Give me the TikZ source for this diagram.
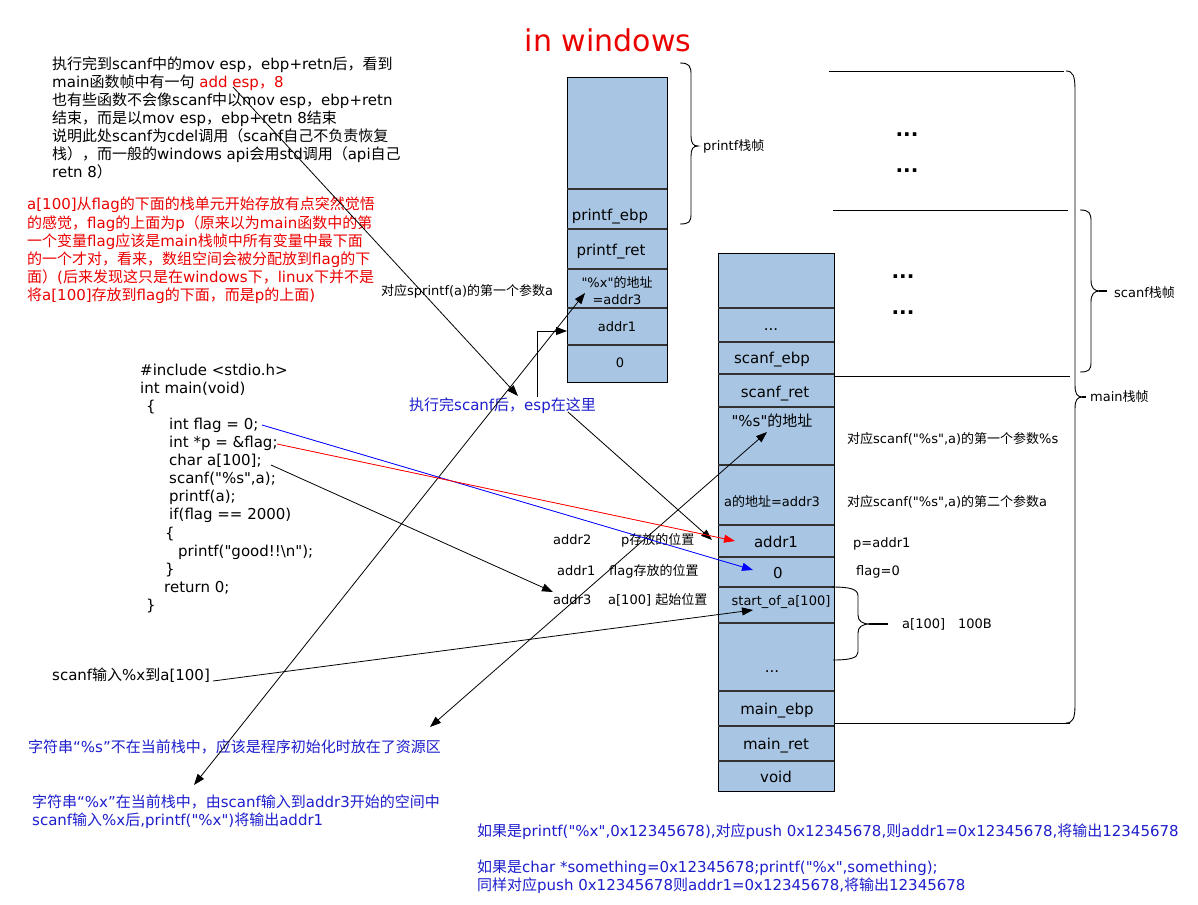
\documentclass[tikz,border=0pt]{standalone}
\usepackage{fontspec}
\setmainfont{DejaVu Sans}
\newfontfamily\latfont{DejaVu Sans}
\newfontfamily\cjkfont{Noto Sans CJK SC}
\newXeTeXintercharclass\cjkcls
\makeatletter
\count@="4E00
\loop
  \XeTeXcharclass\count@=\cjkcls
  \ifnum\count@<"9FFF \advance\count@\@ne
\repeat
\makeatother
\XeTeXcharclass"FF0C=\cjkcls
\XeTeXcharclass"FF08=\cjkcls
\XeTeXcharclass"FF09=\cjkcls
\XeTeXcharclass"3001=\cjkcls
\XeTeXcharclass"3002=\cjkcls
\XeTeXinterchartoks 0 \cjkcls = {\cjkfont}
\XeTeXinterchartoks 4095 \cjkcls = {\cjkfont}
\XeTeXinterchartoks \cjkcls 0 = {\latfont}
\XeTeXinterchartoks \cjkcls 4095 = {\latfont}
\XeTeXinterchartokenstate=1
\usetikzlibrary{arrows.meta}
\definecolor{stackblue}{RGB}{168,198,228}
\definecolor{rowgray}{RGB}{50,50,50}
\definecolor{txtblue}{RGB}{30,30,205}
\definecolor{txtred}{RGB}{235,0,0}
\tikzset{
  t15/.style={inner sep=0, font=\latfont\fontsize{15}{18}\selectfont, text height=13.5pt, text depth=3.5pt},
  t13/.style={inner sep=0, font=\latfont\fontsize{13}{16}\selectfont, text height=11.7pt, text depth=3pt},
  lw/.style={anchor=west},
  stackbox/.style={draw=black, fill=stackblue, line width=0.8pt},
  rowsep/.style={draw=rowgray, line width=1.2pt},
  arr/.style={-{Triangle[length=11pt,width=8pt]}, line width=0.8pt},
  darr/.style={{Triangle[length=11pt,width=8pt]}-{Triangle[length=11pt,width=8pt]}, line width=0.8pt},
  bracepath/.style={draw=black, line width=0.9pt},
  frameline/.style={draw=black, line width=0.9pt},
  bigdots/.style={inner sep=0, font=\latfont\fontsize{20}{20}\selectfont\bfseries},
}
\begin{document}
\begin{tikzpicture}[x=1pt,y=-1pt]
\useasboundingbox (0,0) rectangle (1198,904);
\fill[white] (0,0) rectangle (1198,904);

% title
\node[inner sep=0, font=\latfont\fontsize{30}{30}\selectfont, text=txtred] (title) at (608,40) {in windows};

% top-left note
\node[t15,lw] (n1) at (52,65) {执行完到scanf中的mov esp，ebp+retn后，看到};
\node[t15,lw] (n2) at (52,83) {main函数帧中有一句 \textcolor{txtred}{add esp，8}};
\node[t15,lw] (n3) at (52,101) {也有些函数不会像scanf中以mov esp，ebp+retn};
\node[t15,lw] (n4) at (52,119) {结束，而是以mov esp，ebp+retn 8结束};
\node[t15,lw] (n5) at (52,137) {说明此处scanf为cdel调用（scanf自己不负责恢复};
\node[t15,lw] (n6) at (52,155) {栈），而一般的windows api会用std调用（api自己};
\node[t15,lw] (n7) at (52,173) {retn 8）};

% red note
\begin{scope}[every node/.append style={text=txtred}]
\node[t15,lw] (r1) at (27,204) {a[100]从flag的下面的栈单元开始存放有点突然觉悟};
\node[t15,lw] (r2) at (27,223) {的感觉，flag的上面为p（原来以为main函数中的第};
\node[t15,lw] (r3) at (27,241) {一个变量flag应该是main栈帧中所有变量中最下面};
\node[t15,lw] (r4) at (27,259) {的一个才对，看来，数组空间会被分配放到flag的下};
\node[t15,lw] (r5) at (27,277) {面）(后来发现这只是在windows下，linux下并不是};
\node[t15,lw] (r6) at (27,295) {将a[100]存放到flag的下面，而是p的上面)};
\end{scope}

% code
\node[t15,lw] (c1) at (140,370) {\#include <stdio.h>};
\node[t15,lw] (c2) at (140,388) {int main(void)};
\node[t15,lw] (c3) at (146,406) {\{};
\node[t15,lw] (c4) at (169,424) {int flag = 0;};
\node[t15,lw] (c5) at (169,442) {int *p = \&flag;};
\node[t15,lw] (c6) at (169,460) {char a[100];};
\node[t15,lw] (c7) at (169,478) {scanf("\%s",a);};
\node[t15,lw] (c8) at (169,496) {printf(a);};
\node[t15,lw] (c9) at (169,514) {if(flag == 2000)};
\node[t15,lw] (c10) at (165,533) {\{};
\node[t15,lw] (c11) at (178,551) {printf("good!!\textbackslash n");};
\node[t15,lw] (c12) at (165,569) {\}};
\node[t15,lw] (c13) at (164,587) {return 0;};
\node[t15,lw] (c14) at (146,605) {\}};

% printf stack
\path[stackbox] (567,77) rectangle (667,382);
\foreach \yy in {189,229,269,308,345} \draw[rowsep] (567,\yy) -- (667,\yy);
\node[t15] (pebp) at (610,215) {printf\_ebp};
\node[t15] (pret) at (611,250) {printf\_ret};
\node[t13] (pfmt1) at (617,283) {"\%x"的地址};
\node[t13] (pfmt2) at (617,300) {=addr3};
\node[t13] (paddr) at (617,327) {addr1};
\node[t13] (pzero) at (620,363) {0};

% main stack
\path[stackbox] (718,253) rectangle (834,791);
\foreach \yy in {308,342,374,407,465,525,557,587,623,691,726,761} \draw[rowsep] (718,\yy) -- (834,\yy);
\node[t15] (mdots1) at (771,325) {...};
\node[t15] (mebp) at (772,358) {scanf\_ebp};
\node[t15] (mret) at (775,392) {scanf\_ret};
\node[t15] (mfmt) at (772,421) {"\%s"的地址};
\node[t13] (maddr) at (772,502) {a的地址=addr3};
\node[t15] (maddr1) at (776,542) {addr1};
\node[t15] (mzero) at (778,573) {0};
\node[t13] (mstart) at (781,601) {start\_of\_a[100]};
\node[t15] (mdots2) at (772,667) {...};
\node[t15] (mmebp) at (777,709) {main\_ebp};
\node[t15] (mmret) at (776,744) {main\_ret};
\node[t15] (mvoid) at (776,777) {void};

% frame lines
\draw[frameline] (829,71) -- (1064,71);
\draw[frameline] (833,210) -- (1068,210);
\draw[frameline] (834,376) -- (1070,376);
\draw[frameline] (834,723) -- (1070,723);

% dots
\node[bigdots] (d1) at (907,135) {...};
\node[bigdots] (d2) at (907,171) {...};
\node[bigdots] (d3) at (903,277) {...};
\node[bigdots] (d4) at (903,313) {...};

% braces
\draw[bracepath] (680,63) .. controls (689,63) and (691,66) .. (691,74) -- (691,136) .. controls (691,143) and (693,146) .. (698,146) .. controls (693,146) and (691,149) .. (691,156) -- (691,214) .. controls (691,222) and (689,224) .. (680,224);
\node[t13,lw] (lprintf) at (703,146) {printf栈帧};

\draw[bracepath] (1080,210) .. controls (1089,210) and (1091,213) .. (1091,221) -- (1091,280) .. controls (1091,288) and (1094,291) .. (1100,291) .. controls (1094,291) and (1091,294) .. (1091,302) -- (1091,362) .. controls (1091,370) and (1089,372) .. (1080,372);
\draw[line width=1.8pt] (1099,291) -- (1107,291);
\node[t13,lw] (lscanf) at (1114,293) {scanf栈帧};

\draw[bracepath] (1066,71) .. controls (1073,71) and (1075,76) .. (1075,90) -- (1075,385) .. controls (1075,394) and (1077,397) .. (1083,397) .. controls (1077,397) and (1075,400) .. (1075,409) -- (1075,705) .. controls (1075,718) and (1073,723) .. (1066,723);
\draw[line width=1.6pt] (1082,397) -- (1086,397);
\node[t13,lw] (lmain) at (1090,397) {main栈帧};

\draw[bracepath] (832,587) .. controls (850,587) and (858,589) .. (858,596) -- (858,615) .. controls (858,621) and (862,624) .. (870,624) .. controls (862,624) and (858,627) .. (858,633) -- (858,652) .. controls (858,658) and (850,660) .. (833,660);
\draw[line width=1.8pt] (869,624) -- (888,624);
\node[t13,lw] (la100) at (902,624) {a[100]\hspace{1em}100B};

% right labels
\node[t13,lw] (arg1) at (847,439) {对应scanf("\%s",a)的第一个参数\%s};
\node[t13,lw] (arg2) at (847,502) {对应scanf("\%s",a)的第二个参数a};
\node[t13,lw] (pval) at (853,543) {p=addr1};
\node[t13,lw] (fval) at (856,571) {flag=0};

% middle labels
\node[t13,lw] (sarg) at (381,291) {对应sprintf(a)的第一个参数a};
\node[t15,lw,text=txtblue] (esptext) at (409,405) {执行完scanf后，esp在这里};
\node[t13,lw] (ad2) at (553,540) {addr2};
\node[t13,lw] (ad2t) at (621,540) {p存放的位置};
\node[t13,lw] (ad1) at (557,571) {addr1};
\node[t13,lw] (ad1t) at (609,571) {flag存放的位置};
\node[t13,lw] (ad3) at (553,600) {addr3};
\node[t13,lw] (ad3t) at (608,600) {a[100] 起始位置};

\node[t15,lw] (scanfin) at (52,675) {scanf输入\%x到a[100]};

% blue notes
\begin{scope}[every node/.append style={text=txtblue}]
\node[t15,lw] (bs) at (28,747) {字符串“\%s”不在当前栈中，应该是程序初始化时放在了资源区};
\node[t15,lw] (bx1) at (32,802) {字符串“\%x”在当前栈中，由scanf输入到addr3开始的空间中};
\node[t15,lw] (bx2) at (32,820) {scanf输入\%x后,printf("\%x")将输出addr1};
\node[t15,lw] (b1) at (477,831) {如果是printf("\%x",0x12345678),对应push 0x12345678,则addr1=0x12345678,将输出12345678};
\node[t15,lw] (b2) at (477,867) {如果是char *something=0x12345678;printf("\%x",something);};
\node[t15,lw] (b3) at (477,885) {同样对应push 0x12345678则addr1=0x12345678,将输出12345678};
\end{scope}

% connector end points
\coordinate (addesp) at (233,87);
\coordinate (espA) at (518,396);
\coordinate (espB) at (568,412);
\coordinate (mAddr1W) at (712,540);
\coordinate (espC) at (537,397);
\coordinate (pAddr1W) at (567,331);
\coordinate (strX) at (194,785);
\coordinate (pFmt) at (585,293);
\coordinate (strS) at (430,727);
\coordinate (mFmt) at (767,432);
\coordinate (codeA) at (271,465);
\coordinate (addr3L) at (553,592);
\coordinate (codeFlag) at (262,425);
\coordinate (mZero) at (753,570);
\coordinate (codeP) at (277,444);
\coordinate (mAddr1) at (735,541);
\coordinate (scanfX) at (213,681);
\coordinate (mStart) at (753,610);

\draw[arr] (addesp) -- (espA);
\draw[arr] (espB) -- (mAddr1W);
\draw[arr] (espC) |- (pAddr1W);
\draw[darr] (strX) -- (pFmt);
\draw[darr] (strS) -- (mFmt);
\draw[arr] (codeA) -- (addr3L);
\draw[arr, draw=blue, fill=blue] (codeFlag) -- (mZero);
\draw[arr, draw=red, fill=red] (codeP) -- (mAddr1);
\draw[arr] (scanfX) -- (mStart);
\end{tikzpicture}
\end{document}
